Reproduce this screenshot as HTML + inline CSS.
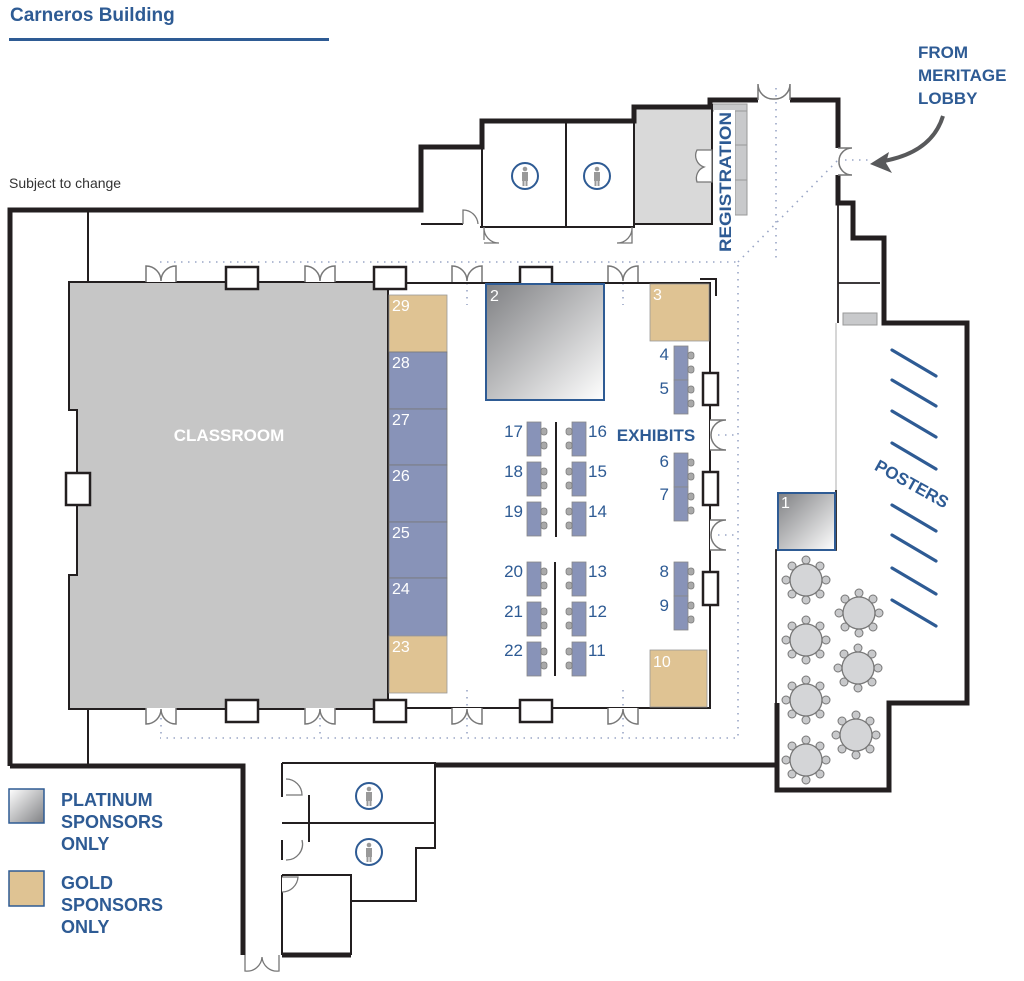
<!DOCTYPE html>
<html><head><meta charset="utf-8"><style>
html,body{margin:0;padding:0;background:#fff;}
svg{display:block;}
text{font-family:"Liberation Sans",sans-serif;}
</style></head><body>
<svg width="1024" height="981" viewBox="0 0 1024 981" xmlns="http://www.w3.org/2000/svg">
<defs>
<linearGradient id="plat" x1="0" y1="0" x2="1" y2="1"><stop offset="0" stop-color="#7f8083"/><stop offset="1" stop-color="#ffffff"/></linearGradient>
<linearGradient id="platL" x1="0" y1="0" x2="1" y2="1"><stop offset="0" stop-color="#ffffff"/><stop offset="1" stop-color="#7f8083"/></linearGradient>
<g id="dd"><path d="M0,16 V0 A15,15 0 0 1 15,15 A15,15 0 0 1 30,0 V16" fill="#fff" stroke="#777" stroke-width="1.5"/></g>
<g id="tbl">
<g fill="#c8c9cb" stroke="#777" stroke-width="1">
<circle cx="0" cy="-20" r="4"/><circle cx="0" cy="20" r="4"/><circle cx="-20" cy="0" r="4"/><circle cx="20" cy="0" r="4"/>
<circle cx="14" cy="14" r="4"/><circle cx="-14" cy="14" r="4"/><circle cx="14" cy="-14" r="4"/><circle cx="-14" cy="-14" r="4"/>
</g><circle r="16" fill="#d4d5d7" stroke="#777" stroke-width="1.3"/></g>
<g id="bR"><rect x="0" y="0" width="14" height="34" fill="#8893b8" stroke="#888" stroke-width="0.8"/><rect x="14" y="6" width="6" height="7" rx="2.5" fill="#a9a9a9" stroke="#777" stroke-width="0.7"/><rect x="14" y="20" width="6" height="7" rx="2.5" fill="#a9a9a9" stroke="#777" stroke-width="0.7"/></g>
<g id="bL"><rect x="0" y="0" width="14" height="34" fill="#8893b8" stroke="#888" stroke-width="0.8"/><rect x="-6" y="6" width="6" height="7" rx="2.5" fill="#a9a9a9" stroke="#777" stroke-width="0.7"/><rect x="-6" y="20" width="6" height="7" rx="2.5" fill="#a9a9a9" stroke="#777" stroke-width="0.7"/></g>
<g id="wc"><circle r="13" fill="#fff" stroke="#2e5b94" stroke-width="2"/><circle cx="0" cy="-7" r="2.3" fill="#999"/><rect x="-3" y="-4" width="6" height="9" fill="#999"/><rect x="-2.5" y="4" width="2" height="6" fill="#999"/><rect x="0.5" y="4" width="2" height="6" fill="#999"/></g>
</defs>

<text x="10" y="21" font-size="19" font-weight="bold" fill="#2e5b94">Carneros Building</text>
<rect x="9" y="38" width="320" height="3" fill="#2e5b94"/>
<text x="9" y="188" font-size="14" fill="#333">Subject to change</text>

<g fill="none" stroke="#9aa6c6" stroke-width="1.6" stroke-dasharray="1.5 5.5">
<path d="M160,262 H738 V738 H160"/>
<path d="M738,262 L838,160"/>
<path d="M776,88 V262"/>
<path d="M838,160 H870"/>
<path d="M161,283 V305 M320,283 V305 M467,283 V305 M623,283 V305"/>
<path d="M161,690 V738 M320,690 V738 M467,690 V738 M623,690 V738"/>
<path d="M718,435 H738 M718,535 H738"/>
</g>

<path d="M69,282 H388 V709 H69 V575 H77 V410 H69 Z" fill="#c6c6c6" stroke="#231f20" stroke-width="2"/>
<rect x="66" y="473" width="24" height="32" fill="#fff" stroke="#231f20" stroke-width="2.5"/>
<text x="229" y="441" font-size="17" font-weight="bold" fill="#fff" text-anchor="middle">CLASSROOM</text>

<g fill="none" stroke="#231f20" stroke-width="2">
<path d="M388,283 H710 V708 H388"/>
<path d="M88,210 V283 M88,709 V766"/>
<path d="M700,279 H716 V296"/>
</g>
<g fill="#fff" stroke="#231f20" stroke-width="2.5">
<rect x="226" y="267" width="32" height="22"/><rect x="374" y="267" width="32" height="22"/><rect x="520" y="267" width="32" height="22"/>
<rect x="226" y="700" width="32" height="22"/><rect x="374" y="700" width="32" height="22"/><rect x="520" y="700" width="32" height="22"/>
<rect x="703" y="373" width="15" height="32"/><rect x="703" y="472" width="15" height="33"/><rect x="703" y="572" width="15" height="33"/>
</g>
<use href="#dd" x="146" y="266"/><use href="#dd" x="305" y="266"/><use href="#dd" x="452" y="266"/><use href="#dd" x="608" y="266"/>
<g transform="translate(0,1417) scale(1,-1)">
<use href="#dd" x="146" y="693"/><use href="#dd" x="305" y="693"/><use href="#dd" x="452" y="693"/><use href="#dd" x="608" y="693"/>
</g>
<g fill="#fff" stroke="#777" stroke-width="1.5">
<path d="M710,420 H726 A15,15 0 0 0 711,435 A15,15 0 0 0 726,450 H710"/>
<path d="M710,520 H726 A15,15 0 0 0 711,535 A15,15 0 0 0 726,550 H710"/>
</g>

<rect x="389" y="295" width="58" height="57" fill="#dfc393" stroke="#999" stroke-width="0.8"/>
<g fill="#8893b8" stroke="#777" stroke-width="0.8">
<rect x="389" y="352" width="58" height="57"/><rect x="389" y="409" width="58" height="56"/><rect x="389" y="465" width="58" height="57"/>
<rect x="389" y="522" width="58" height="56"/><rect x="389" y="578" width="58" height="58"/>
</g>
<rect x="389" y="636" width="58" height="57" fill="#dfc393" stroke="#999" stroke-width="0.8"/>
<rect x="486" y="284" width="118" height="116" fill="url(#plat)" stroke="#2e5b94" stroke-width="2"/>
<rect x="650" y="284" width="59" height="57" fill="#dfc393" stroke="#999" stroke-width="0.8"/>
<rect x="650" y="650" width="57" height="57" fill="#dfc393" stroke="#999" stroke-width="0.8"/>
<g font-family="Liberation Serif,serif" font-size="16" fill="#fff">
<text x="392" y="311">29</text><text x="392" y="368">28</text><text x="392" y="425">27</text><text x="392" y="481">26</text>
<text x="392" y="538">25</text><text x="392" y="594">24</text><text x="392" y="652">23</text>
<text x="490" y="301">2</text><text x="653" y="300">3</text><text x="653" y="667">10</text>
</g>

<use href="#bR" x="527" y="422"/><use href="#bR" x="527" y="462"/><use href="#bR" x="527" y="502"/>
<use href="#bR" x="527" y="562"/><use href="#bR" x="527" y="602"/><use href="#bR" x="527" y="642"/>
<use href="#bL" x="572" y="422"/><use href="#bL" x="572" y="462"/><use href="#bL" x="572" y="502"/>
<use href="#bL" x="572" y="562"/><use href="#bL" x="572" y="602"/><use href="#bL" x="572" y="642"/>
<use href="#bR" x="674" y="346"/><use href="#bR" x="674" y="380"/>
<use href="#bR" x="674" y="453"/><use href="#bR" x="674" y="487"/>
<use href="#bR" x="674" y="562"/><use href="#bR" x="674" y="596"/>
<path d="M556,422 V537 M555,562 V676" stroke="#231f20" stroke-width="2"/>
<g font-family="Liberation Serif,serif" font-size="17" fill="#2e5b94">
<text x="523" y="437" text-anchor="end">17</text><text x="523" y="477" text-anchor="end">18</text><text x="523" y="517" text-anchor="end">19</text>
<text x="523" y="577" text-anchor="end">20</text><text x="523" y="617" text-anchor="end">21</text><text x="523" y="656" text-anchor="end">22</text>
<text x="588" y="437">16</text><text x="588" y="477">15</text><text x="588" y="517">14</text>
<text x="588" y="577">13</text><text x="588" y="617">12</text><text x="588" y="656">11</text>
<text x="669" y="360" text-anchor="end">4</text><text x="669" y="394" text-anchor="end">5</text>
<text x="669" y="467" text-anchor="end">6</text><text x="669" y="500" text-anchor="end">7</text>
<text x="669" y="577" text-anchor="end">8</text><text x="669" y="611" text-anchor="end">9</text>
</g>
<text x="656" y="441" font-size="17" font-weight="bold" fill="#2e5b94" text-anchor="middle">EXHIBITS</text>

<rect x="634" y="107" width="77" height="117" fill="#d9d9d9"/>
<g fill="#c8c9cb" stroke="#999" stroke-width="1"><rect x="735" y="110" width="12" height="35"/><rect x="735" y="145" width="12" height="35"/><rect x="735" y="180" width="12" height="35"/><rect x="712" y="104" width="35" height="7"/></g>
<g fill="none" stroke="#231f20" stroke-width="2">
<path d="M421,224 H463 M480,227 H634 V107 M566,121 V227 M482,147 V227 M634,224 H712 V104"/>
</g>
<g fill="#fff" stroke="#777" stroke-width="1.3">
<path d="M463,224 V210 A15,15 0 0 1 478,224"/>
<path d="M484,227 V240 M484,227 A15,15 0 0 0 499,243 H484"/>
<path d="M632,227 V243 H617 A15,15 0 0 0 632,227"/>
<path d="M712,150 H697 A12,12 0 0 0 704,167 A12,12 0 0 0 697,182 H712 Z"/>
</g>
<use href="#wc" x="525" y="176"/><use href="#wc" x="597" y="176"/>
<rect x="714" y="110" width="21" height="145" fill="#fff"/>
<text transform="translate(731,182) rotate(-90)" font-size="17" font-weight="bold" fill="#2e5b94" text-anchor="middle" textLength="140" lengthAdjust="spacingAndGlyphs">REGISTRATION</text>

<g fill="none" stroke="#231f20" stroke-width="5" stroke-linejoin="miter">
<path d="M10,766 V210 H421 V147 H482 V121 H634 V107 H710 V100 H758"/>
<path d="M790,100 H838 V148 M838,175 V203 H853 V238 H884 V323 H967 V703 H889 V790 H777 V703"/>
<path d="M10,766 H243 V955 M777,765 H435"/>
<path d="M282,955 H351"/>
</g>
<g fill="#fff" stroke="#777" stroke-width="1.5">
<path d="M758,100 V84 A15,15 0 0 0 774,99 A15,15 0 0 0 790,84 V100"/>
<path d="M838,148 H852 A13,13 0 0 0 839,161 A13,13 0 0 0 852,175 H838"/>
</g>
<g fill="none" stroke="#231f20" stroke-width="1.8">
<path d="M838,205 V283 M838,283 H880 M838,283 V323"/>
<path d="M836,490 V550 H776 V703"/>
</g>
<path d="M836,323 V490" stroke="#bbb" stroke-width="1.2"/>
<rect x="843" y="313" width="34" height="12" fill="#c8c9cb" stroke="#999"/>
<rect x="778" y="493" width="57" height="57" fill="url(#plat)" stroke="#2e5b94" stroke-width="2"/>
<text x="781" y="508" font-family="Liberation Serif,serif" font-size="16" fill="#fff">1</text>

<use href="#tbl" x="806" y="580"/><use href="#tbl" x="806" y="640"/><use href="#tbl" x="806" y="700"/><use href="#tbl" x="806" y="760"/>
<use href="#tbl" x="859" y="613"/><use href="#tbl" x="858" y="668"/><use href="#tbl" x="856" y="735"/>

<g stroke="#2e5b94" stroke-width="3.2" stroke-linecap="round">
<path d="M892,350 L936,376 M892,380 L936,406 M892,411 L936,437 M892,443 L936,469 M892,505 L936,531 M892,535 L936,561 M892,568 L936,594 M892,600 L936,626"/>
</g>
<text transform="translate(909,489) rotate(29)" font-size="17" font-weight="bold" fill="#2e5b94" text-anchor="middle">POSTERS</text>

<g font-size="17" font-weight="bold" fill="#2e5b94">
<text x="918" y="58">FROM</text><text x="918" y="81">MERITAGE</text><text x="918" y="104">LOBBY</text>
</g>
<path d="M943,116 Q932,152 884,161" fill="none" stroke="#58595b" stroke-width="4"/>
<path d="M870,164 L889,152 L886,163 L892,173 Z" fill="#58595b"/>

<g fill="none" stroke="#231f20" stroke-width="2">
<path d="M282,763 H435 V848 H416 V901 H351 V875 H282"/>
<path d="M282,823 H435 M282,763 V797 M282,840 V860 M282,875 V955 M351,875 V955 M309,795 V842"/>
</g>
<g fill="#fff" stroke="#777" stroke-width="1.3">
<path d="M286,779 A16,16 0 0 1 302,795 H286"/><path d="M286,860 A16,16 0 0 0 302,840"/>
<path d="M282,892 A16,16 0 0 0 298,877 H282"/>
<path d="M245,955 V971 A15,15 0 0 0 262,957 A15,15 0 0 0 279,971 V955"/>
</g>
<use href="#wc" x="369" y="796"/><use href="#wc" x="369" y="852"/>

<rect x="9" y="789" width="35" height="34" fill="url(#platL)" stroke="#2e5b94" stroke-width="1.5"/>
<rect x="9" y="871" width="35" height="35" fill="#dfc393" stroke="#2e5b94" stroke-width="1.5"/>
<g font-size="18" font-weight="bold" fill="#2e5b94">
<text x="61" y="806">PLATINUM</text><text x="61" y="828">SPONSORS</text><text x="61" y="850">ONLY</text>
<text x="61" y="889">GOLD</text><text x="61" y="911">SPONSORS</text><text x="61" y="933">ONLY</text>
</g>
</svg>
</body></html>
